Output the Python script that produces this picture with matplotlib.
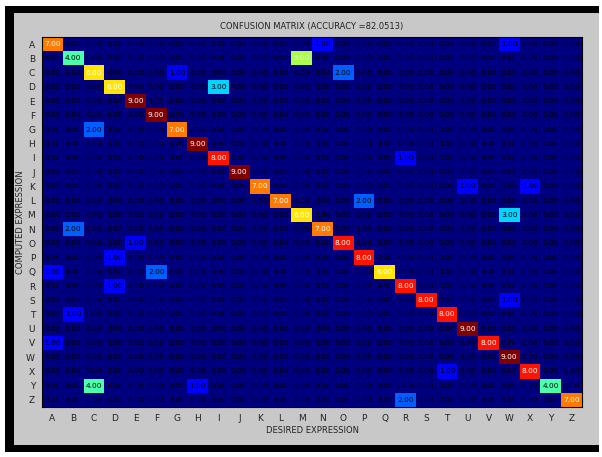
import numpy as np
import matplotlib
matplotlib.use("Agg")
import matplotlib.pyplot as plt
from matplotlib.patches import Rectangle

letters = [chr(ord('A') + i) for i in range(26)]

# diagonal (correct) counts, rows = computed, cols = desired
diag = [7, 4, 6, 6, 9, 9, 7, 9, 8, 9, 7, 7, 6, 7, 8, 8, 6, 8, 8, 8, 9, 8, 9, 8, 4, 7]

# off-diagonal confusions: (computed row, desired col, count)
off_rows = ['A', 'A', 'B', 'C', 'C', 'D', 'G', 'I', 'K', 'K', 'L', 'M', 'N', 'O',
            'P', 'Q', 'Q', 'R', 'S', 'T', 'V', 'X', 'Y', 'Y', 'Z']
off_cols = ['N', 'W', 'M', 'G', 'O', 'I', 'C', 'R', 'U', 'X', 'P', 'W', 'B', 'E',
            'D', 'A', 'F', 'D', 'W', 'B', 'A', 'T', 'C', 'H', 'R']
off_vals = [1, 1, 5, 1, 2, 3, 2, 1, 1, 1, 2, 3, 2, 1,
            1, 1, 2, 1, 1, 1, 1, 1, 4, 1, 2]

cm = np.diag(np.array(diag, dtype=float))
for r, c, v in zip(off_rows, off_cols, off_vals):
    cm[letters.index(r), letters.index(c)] = v

accuracy = 100.0 * np.trace(cm) / cm.sum()

W, H = 602, 457
fig = plt.figure(figsize=(W / 100, H / 100), dpi=100)
fig.patch.set_facecolor('white')


def px_rect(x0, y0, x1, y1, color):
    fig.patches.append(Rectangle((x0 / W, 1 - y1 / H), (x1 - x0) / W, (y1 - y0) / H,
                                 transform=fig.transFigure, facecolor=color,
                                 edgecolor='none', zorder=-10))


# black frame (top, left, bottom) and grey figure panel
px_rect(5, 6, 599, 452, 'black')
px_rect(14, 13, 599, 445, '#c8c8c8')

ax = fig.add_axes([42 / W, 1 - 407 / H, 540 / W, 370 / H])
ax.imshow(cm, cmap='jet', vmin=0, vmax=9, aspect='auto', interpolation='nearest')

for i in range(26):
    for j in range(26):
        v = cm[i, j]
        col = 'white' if v >= 5 else 'black'
        ax.text(j, i, '%.2f' % v, ha='center', va='center', fontsize=5.3,
                color=col)

ax.set_xticks(range(26))
ax.set_yticks(range(26))
ax.set_xticklabels(letters, fontsize=6.5, color='#222222')
ax.set_yticklabels(letters, fontsize=6.5, color='#222222')
ax.tick_params(length=0, pad=5)
for s in ax.spines.values():
    s.set_color('black')
    s.set_linewidth(0.8)

ax.set_title('CONFUSION MATRIX (ACCURACY =%.4f)' % accuracy, fontsize=6,
             color='#222222', pad=6)
ax.set_xlabel('DESIRED EXPRESSION', fontsize=6, color='#222222', labelpad=2)
ax.set_ylabel('COMPUTED EXPRESSION', fontsize=6, color='#222222', labelpad=1)

fig.savefig('out.png', dpi=100)
